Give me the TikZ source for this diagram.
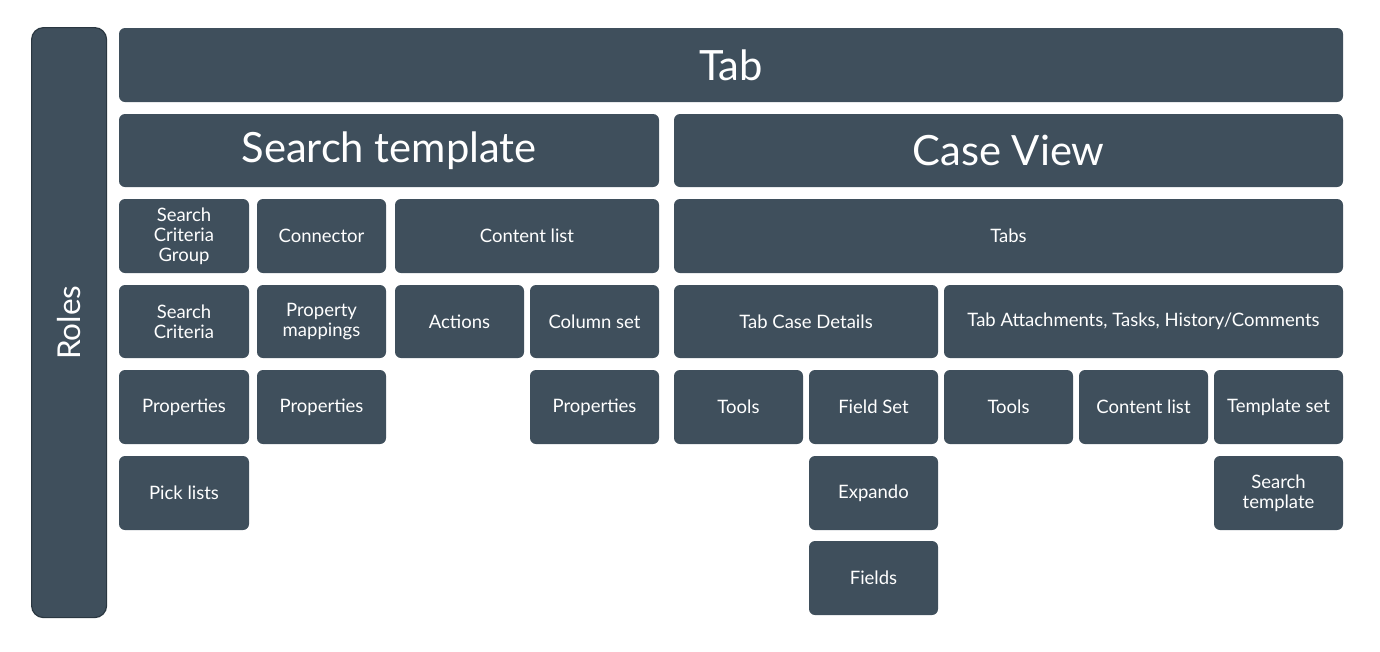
\documentclass[tikz,border=0pt]{standalone}
\usepackage{fontspec}
\setmainfont{Lato}
\definecolor{boxfill}{HTML}{3F4F5C}
\definecolor{roleedge}{HTML}{2A3741}
\tikzset{
  box/.style={fill=boxfill, draw=none, rounded corners=6pt, text=white, align=center,
    inner sep=0pt, outer sep=0pt, anchor=north west,
    font=\fontsize{18.5}{19.8}\selectfont},
  bigbox/.style={box, font=\fontsize{41.7}{46}\selectfont},
}
\newcommand{\bx}[7][box]{%
  \pgfmathsetmacro{\ww}{#5-#3}\pgfmathsetmacro{\hh}{#6-#4}%
  \node[#1, minimum width=\ww pt, minimum height=\hh pt] (#2) at (#3,#4) {#7};}
\begin{document}
\begin{tikzpicture}[x=1pt,y=-1pt]
\useasboundingbox (0,0) rectangle (1380,651);
% Roles
\node[fill=boxfill, draw=roleedge, line width=1.2pt, rounded corners=12pt, anchor=north west,
  minimum width=75pt, minimum height=590pt, inner sep=0pt] (roles) at (31,27) {};
\node[text=white, rotate=90, font=\fontsize{31.5}{34}\selectfont] (roleslbl) at (roles.center) {Roles};
% top
\bx[bigbox]{tab}{119}{28}{1343}{102}{Tab}
\bx[bigbox]{st}{119}{114}{659}{187}{Search template}
\bx[bigbox]{cv}{674}{114}{1343}{187}{Case View}
% row 3
\bx{scg}{119}{199}{249}{273}{Search\\Criteria\\Group}
\bx{conn}{257}{199}{386}{273}{Connector}
\bx{cl}{395}{199}{659}{273}{Content list}
\bx{tabs}{674}{199}{1343}{273}{Tabs}
% row 4
\bx{sc}{119}{285}{249}{358}{Search\\Criteria}
\bx{pm}{257}{285}{386}{358}{Property\\mappings}
\bx{act}{395}{285}{524}{358}{Actions}
\bx{cs}{530}{285}{659}{358}{Column set}
\bx{tcd}{674}{285}{938}{358}{Tab Case Details}
\bx{tat}{944}{285}{1343}{358}{Tab Attachments, Tasks, History/Comments}
% row 5
\bx{p1}{119}{370}{249}{444}{Properties}
\bx{p2}{257}{370}{386}{444}{Properties}
\bx{p3}{530}{370}{659}{444}{Properties}
\bx{tools1}{674}{370}{803}{444}{Tools}
\bx{fs}{809}{370}{938}{444}{Field Set}
\bx{tools2}{944}{370}{1073}{444}{Tools}
\bx{cl2}{1079}{370}{1208}{444}{Content list}
\bx{ts}{1214}{370}{1343}{444}{Template set}
% row 6
\bx{pl}{119}{456}{249}{530}{Pick lists}
\bx{exp}{809}{456}{938}{530}{Expando}
\bx{st2}{1214}{456}{1343}{530}{Search\\template}
% row 7
\bx{fields}{809}{541}{938}{615}{Fields}
\end{tikzpicture}
\end{document}
